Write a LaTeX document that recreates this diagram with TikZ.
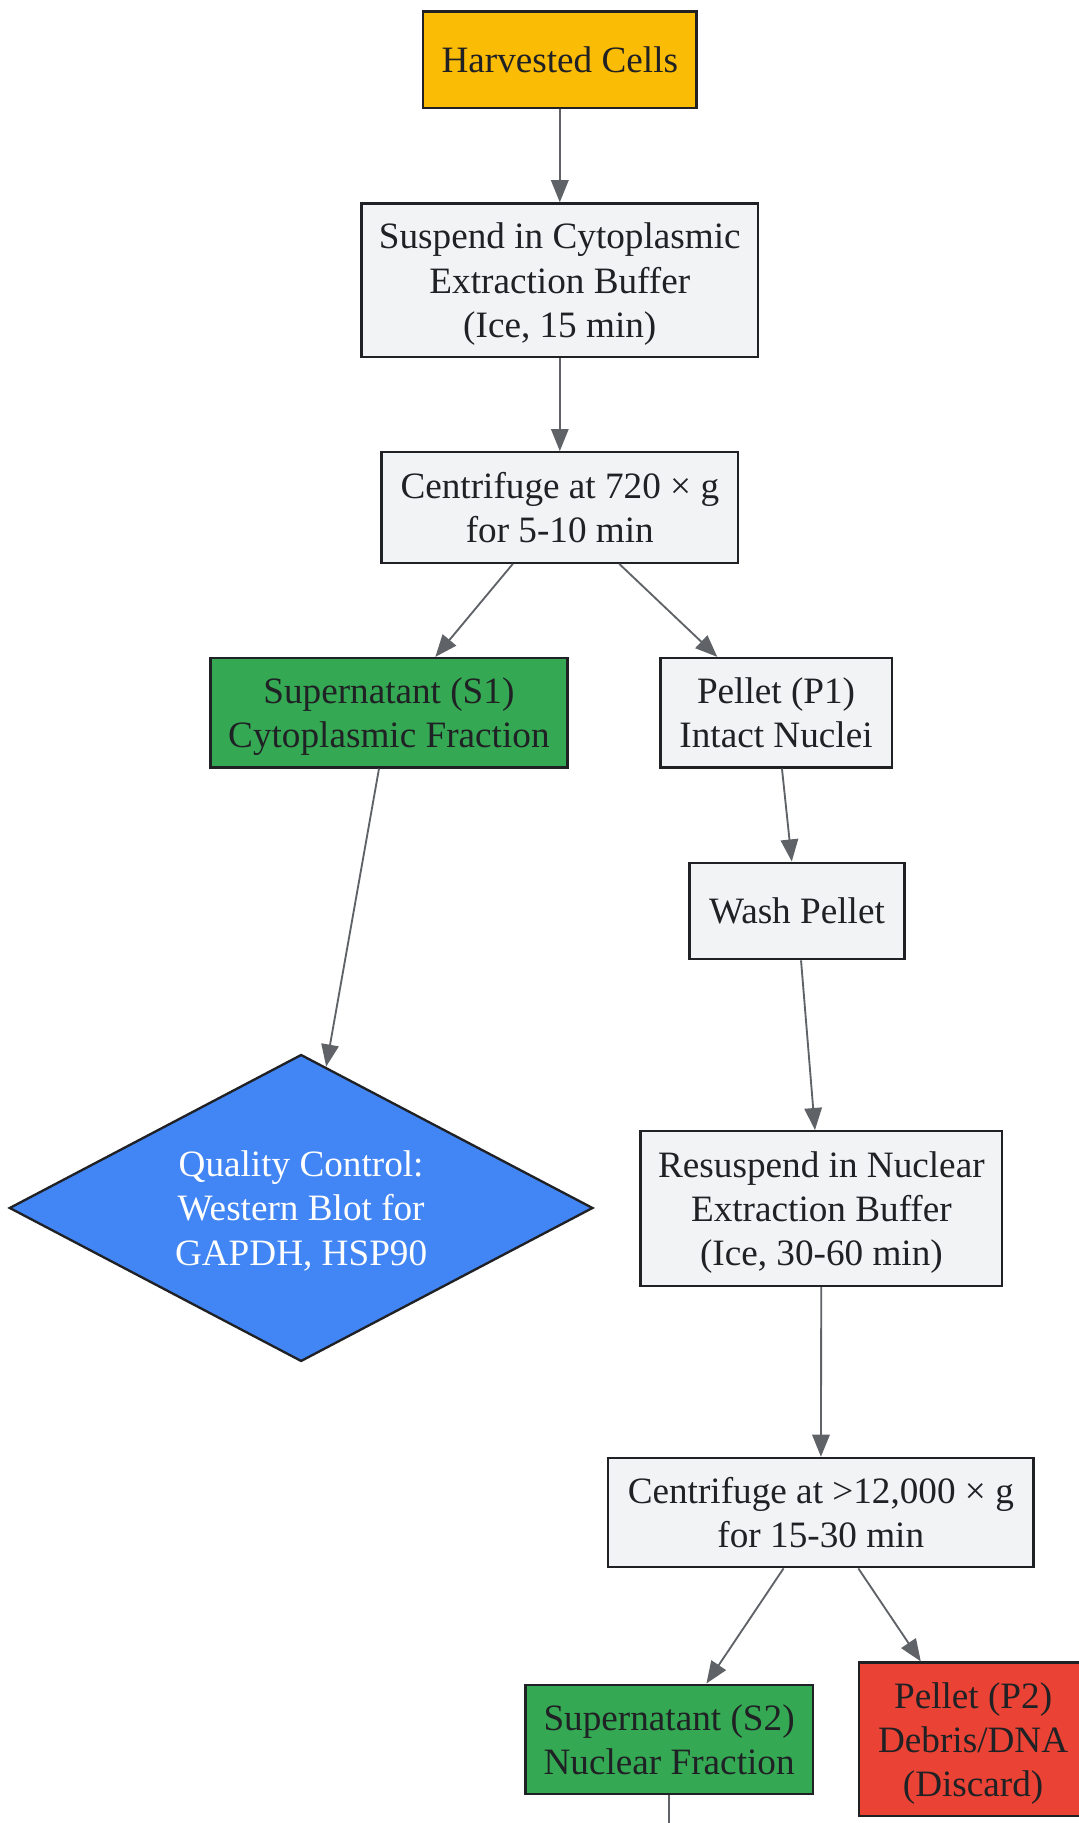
\documentclass[tikz,border=0pt]{standalone}
\usepackage{fontspec}
\setmainfont{Liberation Serif}
\usetikzlibrary{shapes.geometric,arrows.meta}
\definecolor{gy}{HTML}{FBBC05}
\definecolor{gg}{HTML}{34A853}
\definecolor{gb}{HTML}{4285F4}
\definecolor{gr}{HTML}{EA4335}
\definecolor{lg}{HTML}{F1F3F4}
\definecolor{bd}{HTML}{202124}
\definecolor{ar}{HTML}{5F6368}
\tikzset{
  box/.style={draw=bd, line width=2pt, fill=lg, text=bd, align=center, inner sep=0pt,
    font=\fontsize{32}{38}\selectfont, text depth=-7pt},
  onebox/.style={box, text depth=-3pt},
  conn/.style={draw=ar, line width=1.6pt, -{Triangle[length=19pt,width=15pt]}},
}
\begin{document}
\begin{tikzpicture}[x=1pt,y=-1pt]
\useasboundingbox (0,0) rectangle (928,1568);
\node[onebox, fill=gy, minimum width=235pt, minimum height=83pt] (hc) at (481.5,51.5) {Harvested Cells};
\node[box, minimum width=341pt, minimum height=132pt] (sus) at (481.5,241) {Suspend in Cytoplasmic\\Extraction Buffer\\(Ice, 15 min)};
\node[box, minimum width=307pt, minimum height=95pt] (c1) at (481.5,436.5) {Centrifuge at 720 × g\\for 5-10 min};
\node[box, fill=gg, minimum width=307pt, minimum height=94pt] (s1) at (334.5,613) {Supernatant (S1)\\Cytoplasmic Fraction};
\node[box, minimum width=199pt, minimum height=94pt] (p1) at (667.5,613) {Pellet (P1)\\Intact Nuclei};
\node[onebox, minimum width=185pt, minimum height=83pt] (wash) at (685.5,783.5) {Wash Pellet};
\node[box, shape=diamond, fill=gb, text=white, minimum width=502pt, minimum height=264pt, aspect=1.9] (qc) at (259,1039) {Quality Control:\\Western Blot for\\GAPDH, HSP90};
\node[box, minimum width=311pt, minimum height=133pt] (res) at (706.5,1039.5) {Resuspend in Nuclear\\Extraction Buffer\\(Ice, 30-60 min)};
\node[box, minimum width=366pt, minimum height=94pt] (c2) at (706,1301) {Centrifuge at >12,000 × g\\for 15-30 min};
\node[box, fill=gg, minimum width=247pt, minimum height=94pt] (s2) at (575.5,1496) {Supernatant (S2)\\Nuclear Fraction};
\node[box, fill=gr, minimum width=196pt, minimum height=132pt] (p2) at (837,1496) {Pellet (P2)\\Debris/DNA\\(Discard)};
\coordinate (below) at (575.5,1640);
\draw[conn] (hc) -- (sus);
\draw[conn] (sus) -- (c1);
\draw[conn] (c1) -- (s1);
\draw[conn] (c1) -- (p1);
\draw[conn] (s1) -- (qc);
\draw[conn] (p1) -- (wash);
\draw[conn] (wash) -- (res);
\draw[conn] (res) -- (c2);
\draw[conn] (c2) -- (s2);
\draw[conn] (c2) -- (p2);
\draw[draw=ar, line width=1.6pt] (s2) -- (below);
\end{tikzpicture}
\end{document}
